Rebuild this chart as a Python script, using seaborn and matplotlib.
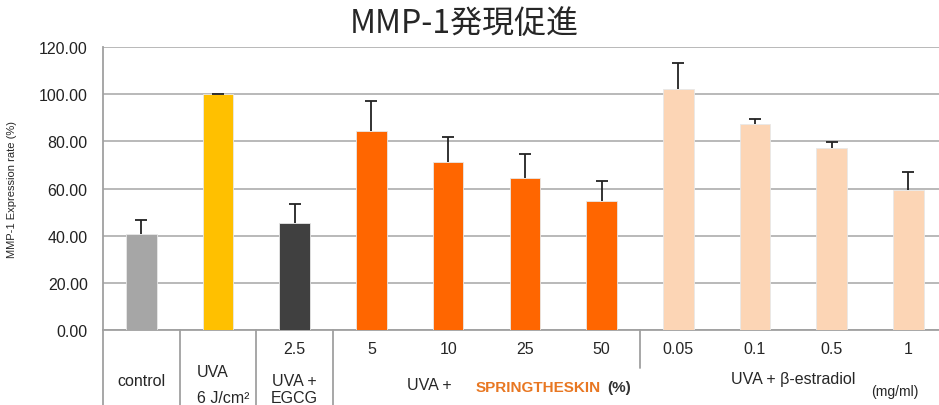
import matplotlib
matplotlib.use("Agg")
import matplotlib.pyplot as plt
import matplotlib.transforms as mtransforms
import numpy as np
import pandas as pd
import seaborn as sns

# data
groups = ["control", "UVA", "EGCG 2.5", "SK 5", "SK 10", "SK 25", "SK 50",
          "E 0.05", "E 0.1", "E 0.5", "E 1"]
values = [40.7, 100.0, 45.2, 84.3, 71.1, 64.4, 54.6, 102.2, 87.4, 77.1, 59.5]
errors = [6.1, 0.0, 8.2, 12.7, 10.6, 10.2, 8.5, 11.0, 2.1, 2.5, 7.4]
colors = ["#A6A6A6", "#FFC000", "#404040", "#FF6600", "#FF6600", "#FF6600",
          "#FF6600", "#FCD5B5", "#FCD5B5", "#FCD5B5", "#FCD5B5"]
dose_labels = ["", "", "2.5", "5", "10", "25", "50", "0.05", "0.1", "0.5", "1"]
yticks = [0, 20, 40, 60, 80, 100, 120]

df = pd.DataFrame({"group": groups, "value": values})

sns.set_style("white")
plt.rcParams["font.family"] = ["Liberation Sans", "DejaVu Sans"]

fig = plt.figure(figsize=(9.39, 4.06), dpi=100)
ax = fig.add_axes([103 / 939, 75 / 406, 836 / 939, 283 / 406])

sns.barplot(data=df, x="group", y="value", hue="group", palette=colors,
            saturation=1, width=0.4, legend=False, ax=ax,
            edgecolor="#E8E8E8", linewidth=0.6, zorder=3)

pos = np.arange(len(values))
eb = ax.errorbar(pos, values, yerr=[np.zeros(len(errors)), errors], fmt="none",
                 ecolor="#222222", elinewidth=1.3, capsize=4, capthick=1.3, zorder=4)
# only the upper cap is shown in the original
eb[1][0].set_visible(False)

ax.set_ylim(0, 120)
ax.set_xlim(-0.5, -0.5 + 836 / 76.7)
ax.set_yticks(yticks)
ax.set_yticklabels([f"{t:.2f}" for t in yticks], fontsize=11.5, color="#222222")
ax.tick_params(axis="y", length=5, color="#A0A0A0", width=1, pad=6)
ax.set_xticks([])
ax.set_xlabel("")
ax.set_ylabel("MMP-1 Expression rate (%)", fontsize=8, labelpad=16)
ax.yaxis.grid(True, color="#B3B3B3", linewidth=1.3, zorder=0)
ax.set_axisbelow(True)
for s in ["top", "right"]:
    ax.spines[s].set_visible(False)
for s in ["left", "bottom"]:
    ax.spines[s].set_color("#A0A0A0")
    ax.spines[s].set_linewidth(1.3)

fig.text(0.495, 0.94, "MMP-1発現促進", ha="center", va="center", fontsize=23,
         family=["Noto Sans CJK JP", "DejaVu Sans"])

# table-like labels below the axis
trans = mtransforms.blended_transform_factory(ax.transData, ax.transAxes)
for xs, y0 in [(-0.5, -0.27), (0.5, -0.27), (1.5, -0.27), (2.5, -0.27), (6.5, -0.135)]:
    ax.plot([xs, xs], [0, y0], color="#A0A0A0", lw=1.3, transform=trans, clip_on=False)

fs = 11.5
for i, lab in enumerate(dose_labels):
    if lab:
        ax.text(i, -0.067, lab, ha="center", va="center", fontsize=fs, transform=trans)

ax.text(0, -0.177, "control", ha="center", va="center", fontsize=fs, transform=trans)
ax.text(0.726, -0.148, "UVA", ha="left", va="center", fontsize=fs, transform=trans)
ax.text(0.726, -0.24, "6 J/cm²", ha="left", va="center", fontsize=fs, transform=trans)
ax.text(2, -0.177, "UVA +", ha="center", va="center", fontsize=fs, transform=trans)
ax.text(2, -0.24, "EGCG", ha="center", va="center", fontsize=fs, transform=trans)
ax.text(3.76, -0.191, "UVA +", ha="center", va="center", fontsize=fs, transform=trans)
ax.text(4.36, -0.201, "SPRINGTHESKIN", ha="left", va="center", fontsize=11,
        fontweight="bold", color="#E87722", transform=trans)
ax.text(6.08, -0.201, "(%)", ha="left", va="center", fontsize=11,
        fontweight="bold", color="#333333", transform=trans)
ax.text(8.5, -0.173, "UVA + β-estradiol", ha="center", va="center", fontsize=fs,
        transform=trans)
ax.text(9.83, -0.216, "(mg/ml)", ha="center", va="center", fontsize=10, transform=trans)

fig.savefig("out.png", dpi=100)
